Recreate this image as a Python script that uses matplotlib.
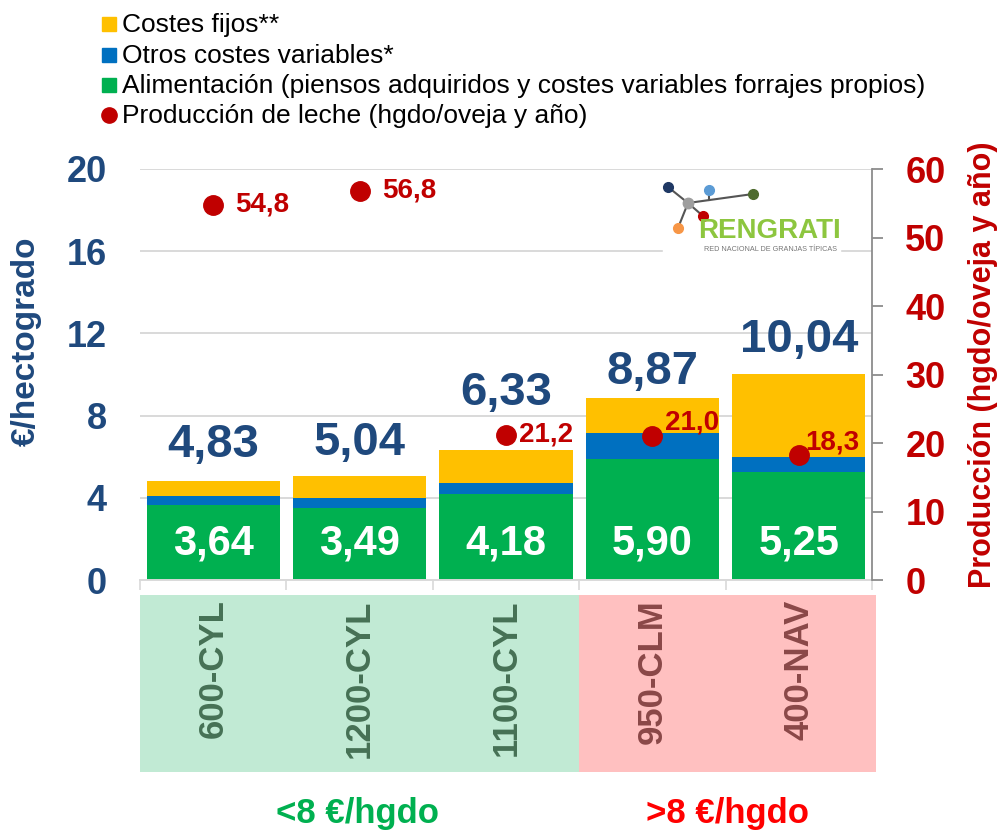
import matplotlib
matplotlib.use("Agg")
import matplotlib.pyplot as plt
from matplotlib.lines import Line2D
from matplotlib.patches import Rectangle

plt.rcParams['font.family'] = ['Liberation Sans', 'DejaVu Sans']

# ---------------- data ----------------
categories = ["600-CYL", "1200-CYL", "1100-CYL", "950-CLM", "400-NAV"]
alimentacion = [3.64, 3.49, 4.18, 5.90, 5.25]
otros_variables = [0.45, 0.48, 0.55, 1.26, 0.75]
totales = [4.83, 5.04, 6.33, 8.87, 10.04]
produccion = [54.8, 56.8, 21.2, 21.0, 18.3]
group_labels = ["<8 €/hgdo", ">8 €/hgdo"]
left_ticks = [0, 4, 8, 12, 16, 20]
right_ticks = [0, 10, 20, 30, 40, 50, 60]
legend_labels = ["Costes fijos**", "Otros costes variables*",
                 "Alimentación (piensos adquiridos y costes variables forrajes propios)",
                 "Producción de leche (hgdo/oveja y año)"]

costes_fijos = [t - a - o for t, a, o in zip(totales, alimentacion, otros_variables)]

# ---------------- style ----------------
C_GREEN = "#00B050"
C_BLUE = "#0070C0"
C_YELLOW = "#FFC000"
C_RED = "#C00000"
C_NAVY = "#1F497D"
C_GRID = "#D9D9D9"

W, H = 1002, 833
fig = plt.figure(figsize=(W / 100, H / 100), dpi=100)


def fx(px):
    return px / W


def fy(py):
    return 1 - py / H


ax = fig.add_axes([fx(140), fy(580), (872 - 140) / W, (580 - 169) / H])
x = list(range(len(categories)))
bw = 0.91
ax.bar(x, alimentacion, width=bw, color=C_GREEN, zorder=2)
ax.bar(x, otros_variables, width=bw, bottom=alimentacion, color=C_BLUE, zorder=2)
base2 = [a + o for a, o in zip(alimentacion, otros_variables)]
ax.bar(x, costes_fijos, width=bw, bottom=base2, color=C_YELLOW, zorder=2)

ax.set_xlim(-0.5, 4.5)
ax.set_ylim(0, 20)
ax.set_yticks(left_ticks)
ax.set_yticklabels([str(t) for t in left_ticks])
ax.yaxis.grid(True, color=C_GRID, lw=1.4, zorder=0)
ax.set_axisbelow(True)
ax.tick_params(axis='y', length=0, pad=24, labelsize=26, labelcolor=C_NAVY)
for lab in ax.get_yticklabels():
    lab.set_fontweight('bold')
ax.set_xticks([])
ax.set_xticks([i - 0.5 for i in range(len(categories) + 1)], minor=True)
ax.tick_params(axis='x', which='minor', length=7.5, width=1.2, color=C_GRID,
               direction='out', labelbottom=False)
for s in ['left', 'top', 'right']:
    ax.spines[s].set_visible(False)
ax.spines['bottom'].set_color(C_GRID)
ax.spines['bottom'].set_linewidth(1.4)

fig.text(fx(26), fy(341), "€/hectogrado", rotation=90, ha='center', va='center',
         fontsize=24, fontweight='bold', color=C_NAVY)

# value labels inside green
for i, v in enumerate(alimentacion):
    ax.text(i, 1.25, f"{v:.2f}".replace('.', ','), ha='center', va='baseline',
            color='white', fontsize=30, fontweight='bold', zorder=5)

# total labels
total_offsets = [1.17, 1.04, 2.17, 0.65, 1.05]
for i, v in enumerate(totales):
    ax.text(i, v + total_offsets[i], f"{v:.2f}".replace('.', ','), ha='center',
            va='baseline', color=C_NAVY, fontsize=34, fontweight='bold', zorder=5)

# secondary axis
ax2 = ax.twinx()
ax2.set_ylim(0, 60)
ax2.set_yticks(right_ticks)
ax2.set_yticklabels([str(t) for t in right_ticks])
ax2.tick_params(axis='y', length=8, width=1.3, color="#8C8C8C", direction='out',
                pad=16, labelsize=26, labelcolor=C_RED)
for lab in ax2.get_yticklabels():
    lab.set_fontweight('bold')
for s in ['left', 'top', 'bottom']:
    ax2.spines[s].set_visible(False)
ax2.spines['right'].set_color("#8C8C8C")
ax2.spines['right'].set_linewidth(1.3)
ax2.plot(x, produccion, linestyle='none', marker='o', ms=14, color=C_RED, zorder=6)
dot_offsets = [(16, 0), (16, 0), (9, 0), (9, 10), (5, 9)]
for i, v in enumerate(produccion):
    ax2.annotate(f"{v:.1f}".replace('.', ','), (i, v), xytext=dot_offsets[i],
                 textcoords='offset points', ha='left', va='center',
                 color=C_RED, fontsize=20, fontweight='bold', zorder=7)

fig.text(fx(983), fy(365), "Producción (hgdo/oveja y año)", rotation=90,
         ha='center', va='center', fontsize=22, fontweight='bold', color=C_RED)

# ---------------- category table ----------------
axt = fig.add_axes([fx(140), fy(772), (872 - 140) / W, (772 - 595) / H])
axt.set_xlim(-0.5, 4.5)
axt.set_ylim(0, 1)
axt.axis('off')
axt.axvspan(-0.5, 2.5, color="#C1EAD4", lw=0)
axt.axvspan(2.5, 4.53, color="#FFC0C0", lw=0, clip_on=False)
for i, c in enumerate(categories):
    col = "#467155" if i < 3 else "#8A4848"
    axt.text(i, 0.975, c, rotation=90, ha='center', va='top', fontsize=25,
             fontweight='bold', color=col)

fig.text(fx(358), fy(813), group_labels[0], ha='center', va='center', fontsize=25,
         fontweight='bold', color=C_GREEN)
fig.text(fx(727), fy(813), group_labels[1], ha='center', va='center', fontsize=25,
         fontweight='bold', color="#FF0000")

# ---------------- legend ----------------
leg_colors = [C_YELLOW, C_BLUE, C_GREEN, C_RED]
leg_markers = ['s', 's', 's', 'o']
leg_sizes = [9.5, 9.5, 9.5, 11]
baselines = [32, 63, 93, 123]
for lab, col, mk, sz, bl in zip(legend_labels, leg_colors, leg_markers, leg_sizes, baselines):
    fig.add_artist(Line2D([fx(108.5)], [fy(bl - 8.5)], marker=mk, ms=sz, color=col,
                          linestyle='none', transform=fig.transFigure))
    fig.text(fx(122), fy(bl), lab, ha='left', va='baseline', fontsize=19, color='black')

# ---------------- logo ----------------
fig.add_artist(Rectangle((fx(663), fy(262)), (840 - 663) / W, (262 - 178) / H,
                         transform=fig.transFigure, color='white', zorder=3))
hub = (688, 203)
nodes = {'navy': ((668, 187), "#1F3864"), 'blue': ((709, 190), "#5B9BD5"),
         'green': ((753, 194), "#4E6B2E"), 'red': ((703, 216), "#C00000"),
         'orange': ((678, 228), "#F79646")}
for name in ['navy', 'green', 'red', 'orange']:
    (px, py), _ = nodes[name]
    fig.add_artist(Line2D([fx(hub[0]), fx(px)], [fy(hub[1]), fy(py)], color="#555555",
                          lw=1.5, transform=fig.transFigure, zorder=4))
fig.add_artist(Line2D([fx(709), fx(709)], [fy(190), fy(200)], color="#555555",
                      lw=1.5, transform=fig.transFigure, zorder=4))
fig.add_artist(Line2D([fx(hub[0])], [fy(hub[1])], marker='o', ms=7.5, color="#9E9E9E",
                      transform=fig.transFigure, zorder=5))
for name, ((px, py), col) in nodes.items():
    fig.add_artist(Line2D([fx(px)], [fy(py)], marker='o', ms=7, color=col,
                          transform=fig.transFigure, zorder=5))
fig.text(fx(769), fy(238), "RENGRATI", ha='center', va='baseline', fontsize=20,
         fontweight='bold', color="#8DC63F", zorder=6)
fig.text(fx(770), fy(251), "RED NACIONAL DE GRANJAS TÍPICAS", ha='center',
         va='baseline', fontsize=5.2, color="#777777", zorder=6)

fig.savefig("out.png", dpi=100)
